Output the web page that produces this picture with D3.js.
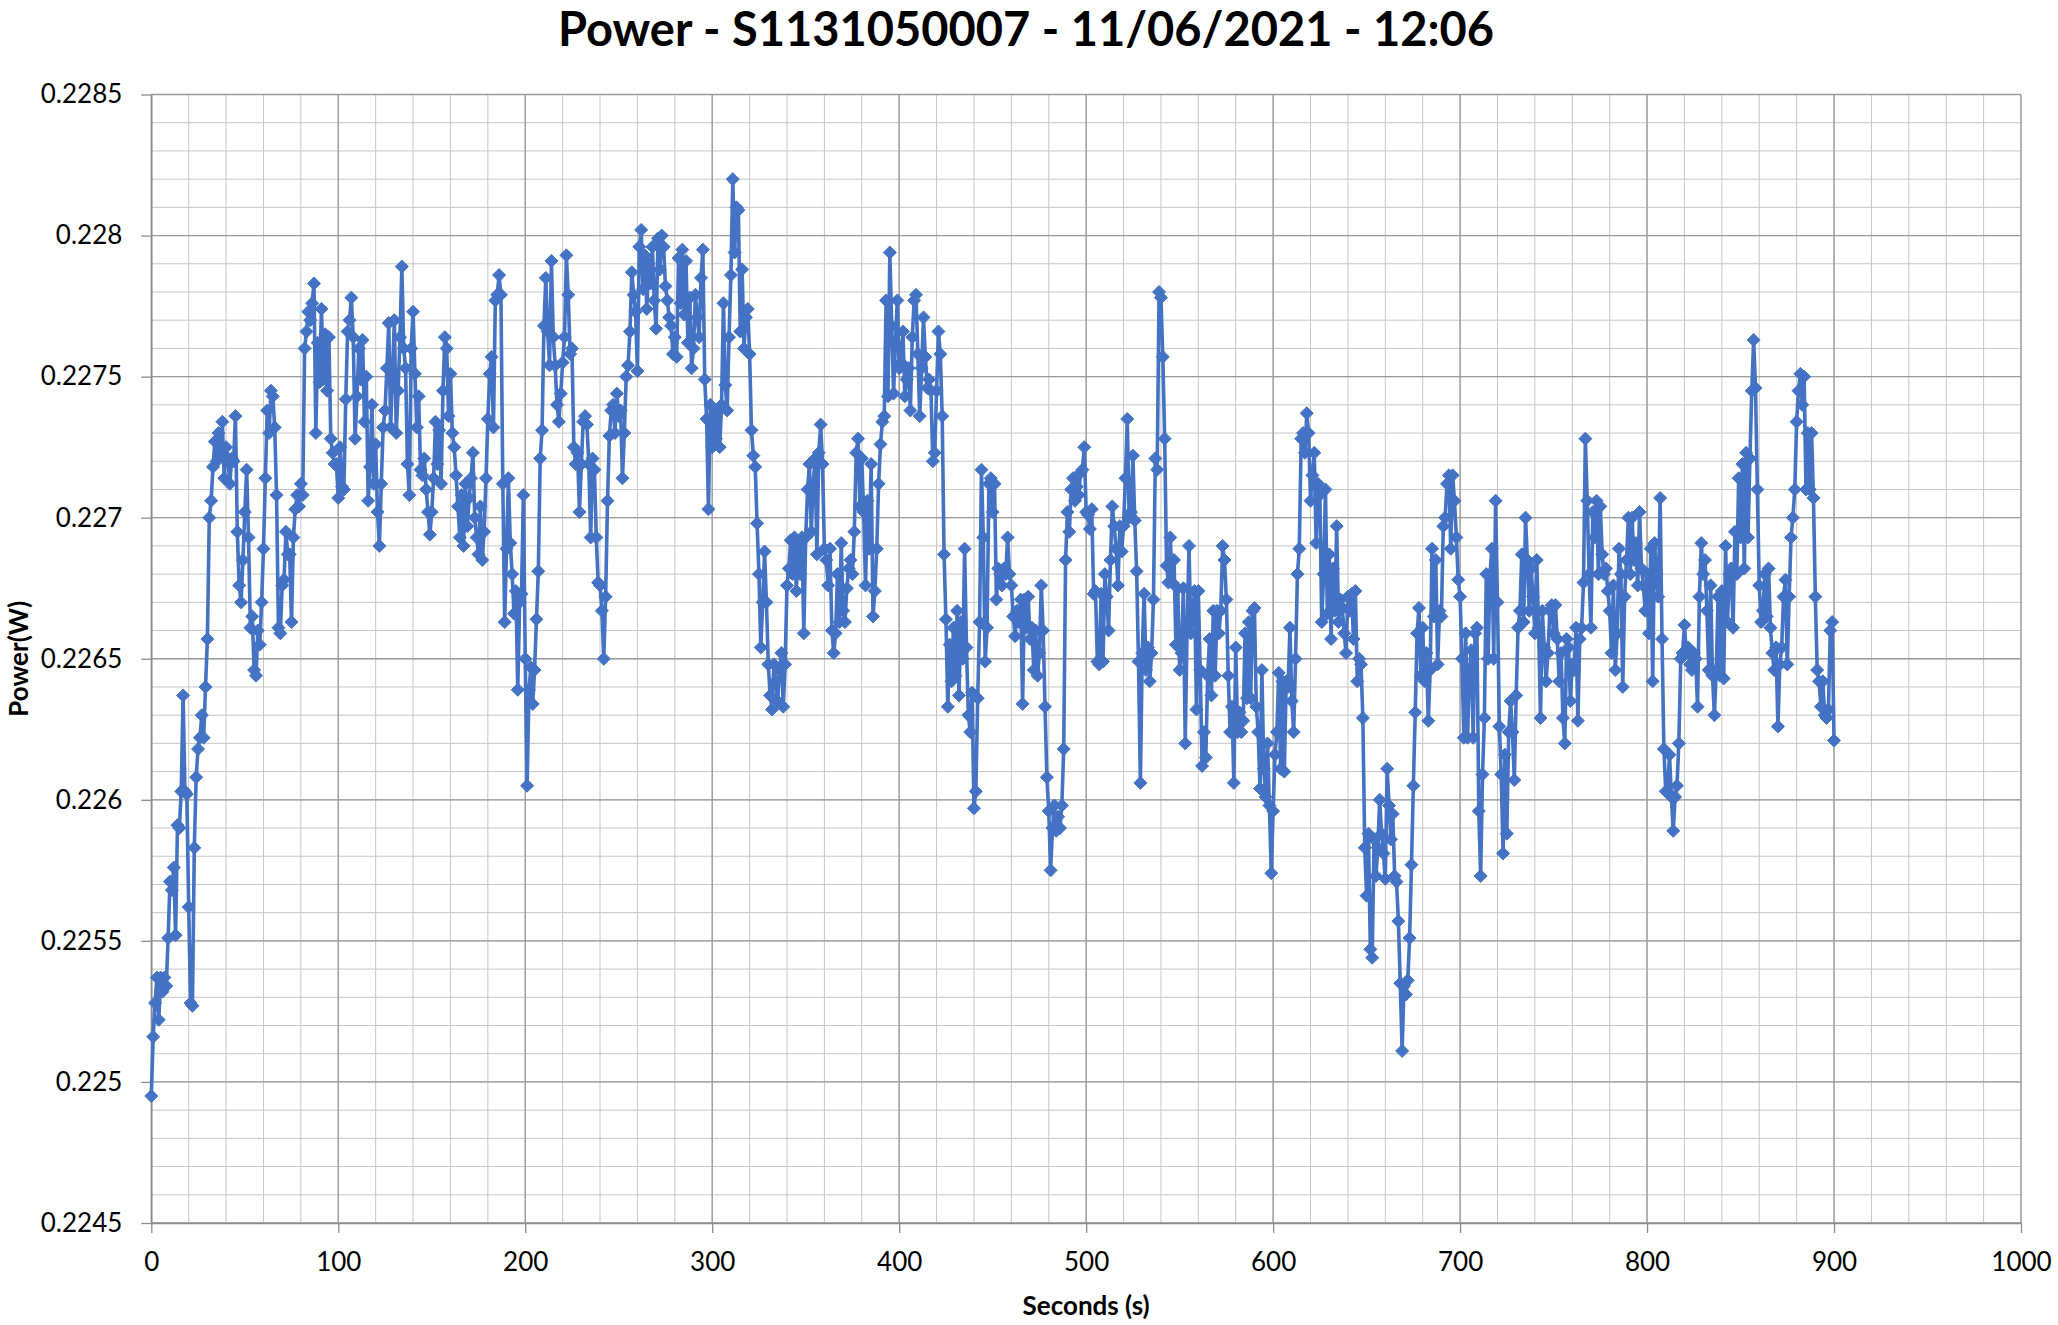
<!DOCTYPE html>
<html>
<head>
<meta charset="utf-8">
<script src="https://cdn.jsdelivr.net/npm/d3@7"></script>
<style>
  html, body { margin: 0; padding: 0; background: #ffffff; }
  svg { display: block; }
</style>
</head>
<body>
<svg id="chart" width="2058" height="1325"></svg>
<script>
// ---------------- DATA ----------------
const chartTitle = "Power - S1131050007 - 11/06/2021 - 12:06";
const xAxisTitle = "Seconds (s)";
const yAxisTitle = "Power(W)";

const xDomain = [0, 1000];
const yDomain = [0.2245, 0.2285];
const xTicks = [0, 100, 200, 300, 400, 500, 600, 700, 800, 900, 1000];
const xTickLabels = ["0", "100", "200", "300", "400", "500", "600", "700", "800", "900", "1000"];
const yTicks = [0.2245, 0.225, 0.2255, 0.226, 0.2265, 0.227, 0.2275, 0.228, 0.2285];
const yTickLabels = ["0.2245", "0.225", "0.2255", "0.226", "0.2265", "0.227", "0.2275", "0.228", "0.2285"];

const sampleStartSecond = 0;   // first sample time
const sampleStepSecond = 1;    // one sample per second

// Power (W), one value per second from 0 s to 900 s
const power = [
/*   0 */ 0.22495,0.22516,0.22528,0.22537,0.22522,0.22537,0.22532,0.22537,0.22534,0.22551,
/*  10 */ 0.22571,0.22568,0.22576,0.22552,0.22591,0.2259,0.22603,0.22637,0.22603,0.22602,
/*  20 */ 0.22562,0.22528,0.22527,0.22583,0.22608,0.22618,0.22622,0.2263,0.22622,0.2264,
/*  30 */ 0.22657,0.227,0.22706,0.22718,0.22727,0.2272,0.2273,0.22722,0.22734,0.22714,
/*  40 */ 0.22725,0.22721,0.22712,0.22721,0.2272,0.22736,0.22695,0.22676,0.2267,0.22685,
/*  50 */ 0.22702,0.22717,0.22693,0.22661,0.22665,0.22646,0.22644,0.2266,0.22655,0.2267,
/*  60 */ 0.22689,0.22714,0.22738,0.2273,0.22745,0.22743,0.22732,0.22708,0.22661,0.22659,
/*  70 */ 0.22676,0.22678,0.22695,0.22687,0.22687,0.22663,0.22693,0.22703,0.22708,0.22704,
/*  80 */ 0.22712,0.22708,0.2276,0.22766,0.22773,0.2277,0.22776,0.22783,0.2273,0.22762,
/*  90 */ 0.22748,0.22774,0.22749,0.22765,0.22745,0.22764,0.22728,0.22723,0.22719,0.22719,
/* 100 */ 0.22707,0.22725,0.22711,0.2271,0.22742,0.22766,0.2277,0.22778,0.22764,0.22728,
/* 110 */ 0.22743,0.2276,0.22749,0.22763,0.22734,0.2275,0.22706,0.22718,0.2274,0.22712,
/* 120 */ 0.22726,0.22702,0.2269,0.22712,0.22732,0.22738,0.22753,0.22769,0.22732,0.22751,
/* 130 */ 0.2277,0.2273,0.22745,0.22764,0.22789,0.2276,0.22753,0.22719,0.22708,0.2276,
/* 140 */ 0.22773,0.22751,0.22732,0.22743,0.22717,0.22715,0.22721,0.2271,0.22702,0.22694,
/* 150 */ 0.22702,0.22714,0.22734,0.22719,0.22731,0.22712,0.22745,0.22764,0.2276,0.22736,
/* 160 */ 0.22751,0.2273,0.22725,0.22715,0.22704,0.22693,0.22708,0.2269,0.22712,0.22697,
/* 170 */ 0.22707,0.22714,0.22723,0.227,0.22693,0.22687,0.22704,0.22685,0.22695,0.22714,
/* 180 */ 0.22735,0.22751,0.22757,0.22732,0.22777,0.22779,0.22786,0.22779,0.22712,0.22663,
/* 190 */ 0.22689,0.22714,0.22691,0.2268,0.22666,0.22674,0.22639,0.2267,0.22673,0.22708,
/* 200 */ 0.2265,0.22605,0.22639,0.22647,0.22634,0.22646,0.22664,0.22681,0.22721,0.22731,
/* 210 */ 0.22768,0.22785,0.22766,0.22754,0.22791,0.22764,0.22754,0.2274,0.22734,0.22744,
/* 220 */ 0.22755,0.22764,0.22793,0.22779,0.22758,0.2276,0.22725,0.22719,0.22723,0.22702,
/* 230 */ 0.22719,0.22734,0.22736,0.22733,0.22719,0.22693,0.22721,0.22717,0.22693,0.22677,
/* 240 */ 0.22676,0.22667,0.2265,0.22672,0.22706,0.22729,0.22738,0.2274,0.2273,0.22744,
/* 250 */ 0.22736,0.22738,0.22714,0.2273,0.2275,0.22754,0.22766,0.22787,0.22779,0.22773,
/* 260 */ 0.22752,0.22796,0.22802,0.22781,0.22793,0.22774,0.2279,0.22783,0.22796,0.22777,
/* 270 */ 0.22767,0.22799,0.22788,0.228,0.22796,0.22782,0.22777,0.22771,0.22768,0.22758,
/* 280 */ 0.22764,0.22757,0.22792,0.22776,0.22795,0.22772,0.22791,0.22762,0.22778,0.22753,
/* 290 */ 0.2276,0.22779,0.22771,0.22764,0.22785,0.22795,0.22749,0.22735,0.22703,0.2274,
/* 300 */ 0.22725,0.22736,0.22728,0.22738,0.22725,0.2274,0.22776,0.22747,0.22738,0.22764,
/* 310 */ 0.22786,0.2282,0.22794,0.2281,0.22809,0.22766,0.22788,0.2276,0.22771,0.22774,
/* 320 */ 0.22758,0.22731,0.22722,0.22718,0.22698,0.2268,0.22654,0.2267,0.22688,0.2267,
/* 330 */ 0.22648,0.22637,0.22632,0.22648,0.22642,0.22635,0.22646,0.22652,0.22633,0.22648,
/* 340 */ 0.22676,0.22682,0.22692,0.2268,0.22693,0.22674,0.22691,0.2268,0.22693,0.22659,
/* 350 */ 0.22693,0.2271,0.22719,0.22695,0.22712,0.22721,0.22687,0.22723,0.22733,0.22719,
/* 360 */ 0.22689,0.22685,0.22676,0.22689,0.2266,0.22652,0.22659,0.2268,0.22663,0.22691,
/* 370 */ 0.22667,0.22663,0.22675,0.22682,0.22685,0.2268,0.22695,0.22723,0.22728,0.22704,
/* 380 */ 0.22721,0.22702,0.22676,0.22706,0.22689,0.22719,0.22665,0.22674,0.22689,0.22712,
/* 390 */ 0.22726,0.22734,0.22736,0.22777,0.22743,0.22794,0.22768,0.22744,0.22762,0.22777,
/* 400 */ 0.22753,0.22755,0.22766,0.22743,0.22749,0.22753,0.22738,0.22764,0.22777,0.22779,
/* 410 */ 0.22758,0.22736,0.22753,0.22771,0.22757,0.22746,0.22749,0.22745,0.2272,0.22723,
/* 420 */ 0.22745,0.22766,0.22758,0.22736,0.22687,0.22664,0.22633,0.22655,0.22642,0.22661,
/* 430 */ 0.22644,0.22667,0.22637,0.22663,0.2265,0.22689,0.22654,0.2263,0.22624,0.22638,
/* 440 */ 0.22597,0.22603,0.22636,0.22663,0.22717,0.22693,0.22649,0.22661,0.22712,0.22714,
/* 450 */ 0.22702,0.22712,0.22671,0.22682,0.2268,0.22676,0.22682,0.2268,0.22693,0.2268,
/* 460 */ 0.22676,0.22665,0.22658,0.22667,0.22663,0.22671,0.22634,0.22671,0.22661,0.22672,
/* 470 */ 0.22657,0.22661,0.22646,0.2266,0.22644,0.22652,0.22676,0.2266,0.22633,0.22608,
/* 480 */ 0.22596,0.22575,0.2259,0.22598,0.22589,0.22594,0.2259,0.22598,0.22618,0.22685,
/* 490 */ 0.22702,0.22695,0.2271,0.22714,0.22706,0.22711,0.22708,0.22716,0.22717,0.22725,
/* 500 */ 0.22702,0.22701,0.22696,0.22703,0.22673,0.22674,0.22649,0.22648,0.22673,0.22649,
/* 510 */ 0.2268,0.22672,0.2266,0.22685,0.22704,0.22697,0.22689,0.22676,0.22697,0.22688,
/* 520 */ 0.22697,0.22714,0.22735,0.227,0.22702,0.22722,0.22699,0.22681,0.22649,0.22606,
/* 530 */ 0.22652,0.22673,0.22646,0.22654,0.22642,0.22652,0.22671,0.22721,0.22717,0.2278,
/* 540 */ 0.22778,0.22757,0.22728,0.22683,0.22677,0.22693,0.22677,0.22685,0.22655,0.22675,
/* 550 */ 0.22646,0.22652,0.22675,0.2262,0.22661,0.2269,0.22659,0.22667,0.22674,0.22632,
/* 560 */ 0.22674,0.22646,0.22612,0.22624,0.22615,0.22644,0.22657,0.22637,0.22667,0.22644,
/* 570 */ 0.22667,0.22659,0.22667,0.2269,0.22685,0.22671,0.22644,0.22624,0.22633,0.22606,
/* 580 */ 0.22654,0.22624,0.22631,0.22624,0.22628,0.22659,0.22636,0.22663,0.22636,0.22667,
/* 590 */ 0.22668,0.22633,0.22624,0.22604,0.22646,0.22611,0.22601,0.2262,0.22598,0.22574,
/* 600 */ 0.22596,0.22616,0.22624,0.22645,0.22611,0.22642,0.2261,0.22642,0.2264,0.22661,
/* 610 */ 0.22635,0.22624,0.2265,0.2268,0.22689,0.22728,0.2273,0.22723,0.22737,0.2273,
/* 620 */ 0.22706,0.22715,0.22723,0.22691,0.22712,0.22708,0.22663,0.2268,0.2271,0.22666,
/* 630 */ 0.22687,0.22657,0.22682,0.22667,0.22697,0.22663,0.22671,0.22668,0.22659,0.22652,
/* 640 */ 0.22672,0.22667,0.22673,0.22657,0.22674,0.22642,0.2265,0.22648,0.22629,0.22583,
/* 650 */ 0.22566,0.22588,0.22547,0.22544,0.22586,0.22573,0.22583,0.226,0.22588,0.22581,
/* 660 */ 0.22572,0.22611,0.22598,0.22586,0.22595,0.22573,0.22571,0.22557,0.22535,0.22511,
/* 670 */ 0.22534,0.22531,0.22536,0.22551,0.22577,0.22605,0.22631,0.22659,0.22668,0.22644,
/* 680 */ 0.22661,0.22642,0.22652,0.22628,0.22646,0.22689,0.22665,0.22685,0.22648,0.22667,
/* 690 */ 0.22665,0.22697,0.227,0.22712,0.22715,0.22689,0.22715,0.22706,0.22693,0.22678,
/* 700 */ 0.22672,0.2265,0.22622,0.22659,0.22622,0.22646,0.22653,0.22622,0.22659,0.22661,
/* 710 */ 0.22596,0.22573,0.22609,0.22629,0.2268,0.2265,0.2268,0.22689,0.2265,0.22706,
/* 720 */ 0.2267,0.22626,0.22609,0.22581,0.22616,0.22588,0.22624,0.22635,0.22624,0.22607,
/* 730 */ 0.22637,0.22661,0.22667,0.22687,0.22663,0.227,0.22685,0.22667,0.22682,0.22672,
/* 740 */ 0.22659,0.22685,0.22661,0.22629,0.22667,0.22654,0.22642,0.22652,0.22667,0.22669,
/* 750 */ 0.22659,0.22669,0.22657,0.22642,0.22652,0.22629,0.2262,0.22657,0.22654,0.22635,
/* 760 */ 0.22648,0.22646,0.22661,0.22628,0.22657,0.22661,0.22677,0.22728,0.22706,0.2268,
/* 770 */ 0.22661,0.22702,0.22693,0.22706,0.2268,0.22704,0.22687,0.2268,0.22682,0.22674,
/* 780 */ 0.22667,0.22652,0.22676,0.22646,0.22659,0.22689,0.2268,0.2264,0.22672,0.22685,
/* 790 */ 0.227,0.2268,0.227,0.22685,0.22691,0.22676,0.22702,0.22682,0.22676,0.22667,
/* 800 */ 0.2268,0.22659,0.22689,0.22642,0.22691,0.2268,0.22672,0.22707,0.22657,0.22618,
/* 810 */ 0.22603,0.22603,0.22616,0.22601,0.22589,0.22601,0.22605,0.2262,0.2265,0.22652,
/* 820 */ 0.22662,0.22652,0.22654,0.22648,0.22646,0.22652,0.2265,0.22633,0.22672,0.22691,
/* 830 */ 0.2268,0.22685,0.22667,0.22646,0.22676,0.22644,0.2263,0.22646,0.22672,0.22644,
/* 840 */ 0.22674,0.22643,0.2269,0.22663,0.2268,0.22682,0.22661,0.22695,0.2268,0.22714,
/* 850 */ 0.22693,0.22719,0.22682,0.22723,0.22693,0.22721,0.22745,0.22763,0.22746,0.2271,
/* 860 */ 0.22676,0.22663,0.22667,0.2268,0.22665,0.22682,0.22661,0.22652,0.22646,0.22654,
/* 870 */ 0.22626,0.22648,0.22654,0.22672,0.22678,0.22648,0.22672,0.22693,0.227,0.2271,
/* 880 */ 0.22734,0.22745,0.22751,0.2274,0.2275,0.2271,0.2273,0.2271,0.2273,0.22707,
/* 890 */ 0.22672,0.22646,0.22642,0.22633,0.22642,0.2263,0.22629,0.22632,0.2266,0.22663,
/* 900 */ 0.22621
];

// ---------------- DRAWING ----------------
const W = 2058, H = 1325;
const plot = { left: 151.3, right: 2021, top: 94.5, bottom: 1223 };
const FONT = "Lato, 'Open Sans', 'DejaVu Sans', sans-serif";
const lineColor = "#4472C4";

const svg = d3.select("#chart");
svg.append("rect").attr("width", W).attr("height", H).attr("fill", "#ffffff");

const x = d3.scaleLinear().domain(xDomain).range([plot.left, plot.right]);
const y = d3.scaleLinear().domain(yDomain).range([plot.bottom, plot.top]);

const points = power.map((v, i) => ({ t: sampleStartSecond + i * sampleStepSecond, v }));

// minor gridlines
const grid = svg.append("g").attr("class", "grid");
grid.selectAll("line.xminor").data(x.ticks(50)).join("line")
  .attr("class", "xminor")
  .attr("x1", d => x(d)).attr("x2", d => x(d))
  .attr("y1", plot.top).attr("y2", plot.bottom)
  .attr("stroke", "#c6c6c6").attr("stroke-width", 1);
grid.selectAll("line.yminor").data(y.ticks(40)).join("line")
  .attr("class", "yminor")
  .attr("x1", plot.left).attr("x2", plot.right)
  .attr("y1", d => y(d)).attr("y2", d => y(d))
  .attr("stroke", "#c6c6c6").attr("stroke-width", 1);
// major gridlines
grid.selectAll("line.xmajor").data(xTicks).join("line")
  .attr("class", "xmajor")
  .attr("x1", d => x(d)).attr("x2", d => x(d))
  .attr("y1", plot.top).attr("y2", plot.bottom)
  .attr("stroke", "#9a9a9a").attr("stroke-width", 1.3);
grid.selectAll("line.ymajor").data(yTicks).join("line")
  .attr("class", "ymajor")
  .attr("x1", plot.left).attr("x2", plot.right)
  .attr("y1", d => y(d)).attr("y2", d => y(d))
  .attr("stroke", "#9a9a9a").attr("stroke-width", 1.3);

// axes
const xAxis = d3.axisBottom(x).tickValues(xTicks)
  .tickFormat((d, i) => xTickLabels[i]).tickSizeInner(10).tickSizeOuter(0).tickPadding(20);
const yAxis = d3.axisLeft(y).tickValues(yTicks)
  .tickFormat((d, i) => yTickLabels[i]).tickSizeInner(10).tickSizeOuter(0).tickPadding(19);

const gx = svg.append("g").attr("transform", `translate(0,${plot.bottom})`).call(xAxis);
const gy = svg.append("g").attr("transform", `translate(${plot.left},0)`).call(yAxis);
[gx, gy].forEach(g => {
  g.select(".domain").attr("stroke", "#8c8c8c").attr("stroke-width", 1.5);
  g.selectAll(".tick line").attr("stroke", "#8c8c8c").attr("stroke-width", 1.3);
  g.selectAll(".tick text").attr("fill", "#000000")
    .style("font-family", FONT).style("font-size", "26px");
});

// line
svg.append("path")
  .datum(points)
  .attr("fill", "none")
  .attr("stroke", lineColor)
  .attr("stroke-width", 3.6)
  .attr("stroke-linejoin", "round")
  .attr("d", d3.line().x(d => x(d.t)).y(d => y(d.v)));

// diamond markers
const diamond = "M0,-6.5L6.5,0L0,6.5L-6.5,0Z";
svg.append("g").selectAll("path").data(points).join("path")
  .attr("d", diamond)
  .attr("transform", d => `translate(${x(d.t)},${y(d.v)})`)
  .attr("fill", lineColor)
  .attr("stroke", lineColor)
  .attr("stroke-width", 1);

// title
svg.append("text")
  .attr("x", 1026).attr("y", 46)
  .attr("text-anchor", "middle")
  .style("font-family", FONT).style("font-weight", "bold").style("font-size", "47px")
  .attr("fill", "#000000")
  .text(chartTitle);

// axis titles
svg.append("text")
  .attr("x", (plot.left + plot.right) / 2).attr("y", 1315)
  .attr("text-anchor", "middle")
  .style("font-family", FONT).style("font-weight", "bold").style("font-size", "26px")
  .attr("fill", "#000000")
  .text(xAxisTitle);

svg.append("text")
  .attr("transform", `translate(28,${(plot.top + plot.bottom) / 2}) rotate(-90)`)
  .attr("text-anchor", "middle")
  .style("font-family", FONT).style("font-weight", "bold").style("font-size", "26px")
  .attr("fill", "#000000")
  .text(yAxisTitle);
</script>
</body>
</html>
